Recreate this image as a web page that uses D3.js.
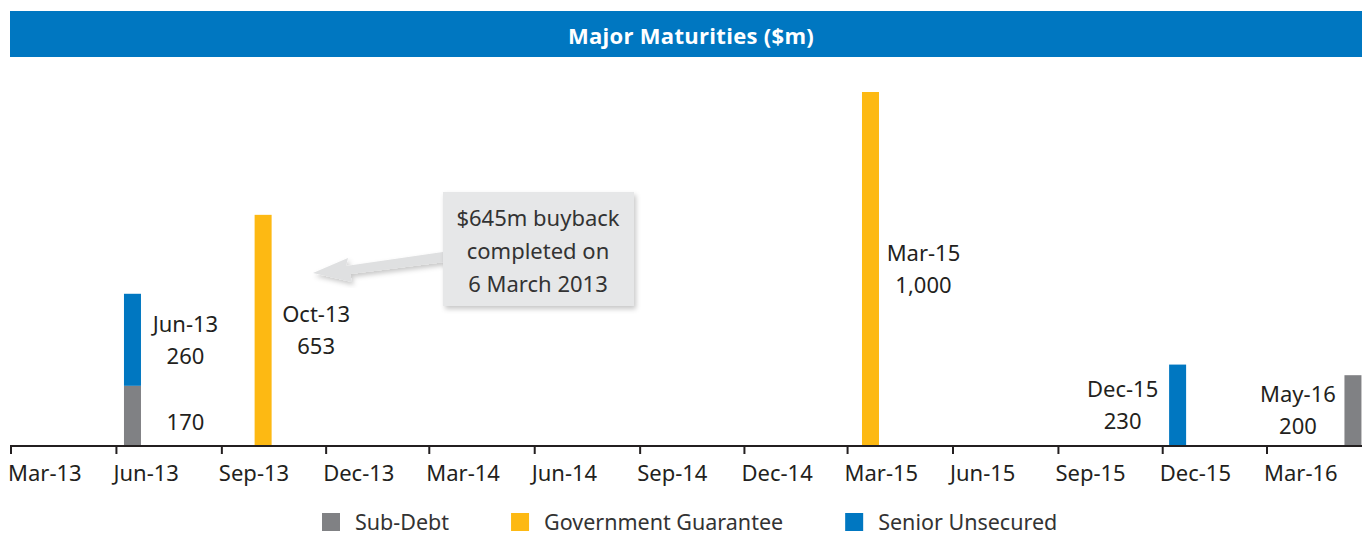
<!DOCTYPE html>
<html>
<head>
<meta charset="utf-8">
<script src="https://cdn.jsdelivr.net/npm/d3@7"></script>
<style>
  body { margin: 0; background: #fff; }
  svg text { font-family: "Noto Sans", sans-serif; fill: #231f20; }
</style>
</head>
<body>
<div id="chart"></div>
<script>
// maturity data ($m)
const maturityDates = ["2013-06-15", "2013-10-07", "2015-03-21", "2015-12-14", "2016-05-15"];
const maturityLabels = ["Jun-13", "Oct-13", "Mar-15", "Dec-15", "May-16"];
const subDebt = [170, 0, 0, 0, 200];
const govGuarantee = [0, 653, 1000, 0, 0];
const seniorUnsecured = [260, 0, 0, 230, 0];
const seriesNames = ["Sub-Debt", "Government Guarantee", "Senior Unsecured"];
const seriesColors = ["#808184", "#fdb913", "#0077c1"];
const tickDates = ["2013-03-01", "2013-06-01", "2013-09-01", "2013-12-01", "2014-03-01", "2014-06-01",
  "2014-09-01", "2014-12-01", "2015-03-01", "2015-06-01", "2015-09-01", "2015-12-01", "2016-03-01"];
const tickLabels = ["Mar-13", "Jun-13", "Sep-13", "Dec-13", "Mar-14", "Jun-14", "Sep-14",
  "Dec-14", "Mar-15", "Jun-15", "Sep-15", "Dec-15", "Mar-16"];
const noteLines = ["$645m buyback", "completed on", "6 March 2013"];

const W = 1362, H = 535;
const parse = d3.timeParse("%Y-%m-%d");

const svg = d3.select("#chart").append("svg")
  .attr("width", W).attr("height", H);

// title bar
svg.append("rect")
  .attr("x", 10).attr("y", 11)
  .attr("width", W - 10).attr("height", 46)
  .attr("fill", "#0077c1");
svg.append("text")
  .attr("x", 691).attr("y", 36).attr("dy", "0.35em")
  .attr("text-anchor", "middle")
  .style("fill", "#fff")
  .style("font-family", "'Open Sans', sans-serif")
  .style("font-weight", 700)
  .style("font-size", "22px")
  .style("letter-spacing", "0.3px")
  .text("Major Maturities ($m)");

// scales
const x = d3.scaleTime()
  .domain([parse(tickDates[0]), parse(tickDates[tickDates.length - 1])])
  .range([11, 1267]);
const y = d3.scaleLinear()
  .domain([0, 1000])
  .range([446, 92]);

const rows = maturityDates.map((d, i) => ({
  date: parse(d),
  label: maturityLabels[i],
  "Sub-Debt": subDebt[i],
  "Government Guarantee": govGuarantee[i],
  "Senior Unsecured": seniorUnsecured[i]
}));

const stack = d3.stack().keys(seriesNames)(rows);
const barW = 17;

// bars
stack.forEach((layer, k) => {
  svg.append("g")
    .selectAll("rect")
    .data(layer.filter(d => d[1] > d[0]))
    .join("rect")
    .attr("x", d => x(d.data.date) - barW / 2)
    .attr("y", d => y(d[1]))
    .attr("width", barW)
    .attr("height", d => y(d[0]) - y(d[1]))
    .attr("fill", seriesColors[k]);
});

// value labels
const labelG = svg.append("g").style("font-size", "22px");
rows.forEach((row, i) => {
  const segs = stack.map(layer => layer[i]).filter(s => s[1] > s[0]);
  const cx = x(row.date);
  const lx = cx > 1100 ? cx - 55 : cx + 53;
  segs.forEach((s, j) => {
    const mid = (y(s[0]) + y(s[1])) / 2;
    const val = d3.format(",")(s[1] - s[0]);
    if (j === segs.length - 1) {
      labelG.append("text").attr("x", lx).attr("y", mid - 16).attr("dy", "0.35em")
        .attr("text-anchor", "middle").text(row.label);
      labelG.append("text").attr("x", lx).attr("y", mid + 16).attr("dy", "0.35em")
        .attr("text-anchor", "middle").text(val);
    } else {
      labelG.append("text").attr("x", lx).attr("y", mid + 6).attr("dy", "0.35em")
        .attr("text-anchor", "middle").text(val);
    }
  });
});

// x axis
const axis = svg.append("g").attr("transform", "translate(0,446)");
axis.append("line")
  .attr("x1", 10).attr("x2", W)
  .attr("stroke", "#231f20").attr("stroke-width", 2);
const ticks = axis.selectAll("g.tick")
  .data(tickDates)
  .join("g")
  .attr("class", "tick")
  .attr("transform", d => `translate(${x(parse(d))},0)`);
ticks.append("line")
  .attr("y1", 0).attr("y2", 8)
  .attr("stroke", "#231f20").attr("stroke-width", 2);
ticks.append("text")
  .attr("x", -3).attr("y", 27).attr("dy", "0.35em")
  .style("font-size", "22px")
  .text((d, i) => tickLabels[i]);

// annotation
const defs = svg.append("defs");
const f = defs.append("filter").attr("id", "shadow")
  .attr("x", "-20%").attr("y", "-20%").attr("width", "140%").attr("height", "140%");
f.append("feDropShadow").attr("dx", 2).attr("dy", 3).attr("stdDeviation", 2.5)
  .attr("flood-color", "#000").attr("flood-opacity", 0.22);

svg.append("path")
  .attr("d", "M443,252 L346,266 L348,258 L313,273 L352,282 L350,274 L445,262 Z")
  .attr("fill", "#dfe0e1")
  .attr("filter", "url(#shadow)");

svg.append("rect")
  .attr("x", 443).attr("y", 192)
  .attr("width", 191).attr("height", 114)
  .attr("fill", "#e6e7e8")
  .attr("filter", "url(#shadow)");
svg.append("g").selectAll("text")
  .data(noteLines)
  .join("text")
  .attr("x", 538).attr("y", (d, i) => 218 + i * 33).attr("dy", "0.35em")
  .attr("text-anchor", "middle")
  .style("font-size", "22px")
  .style("fill", "#333")
  .text(d => d);

// legend
const legend = svg.append("g").attr("transform", "translate(0,522)")
  .style("font-family", "'Open Sans', sans-serif");
let lxPos = 322;
seriesNames.forEach((name, k) => {
  legend.append("rect")
    .attr("x", lxPos).attr("y", -9)
    .attr("width", 18).attr("height", 18)
    .attr("fill", seriesColors[k]);
  const t = legend.append("text")
    .attr("x", lxPos + 33).attr("dy", "0.35em")
    .style("font-size", "21.5px")
    .style("fill", "#333")
    .text(name);
  lxPos += 33 + t.node().getComputedTextLength() + 62;
});
</script>
</body>
</html>
